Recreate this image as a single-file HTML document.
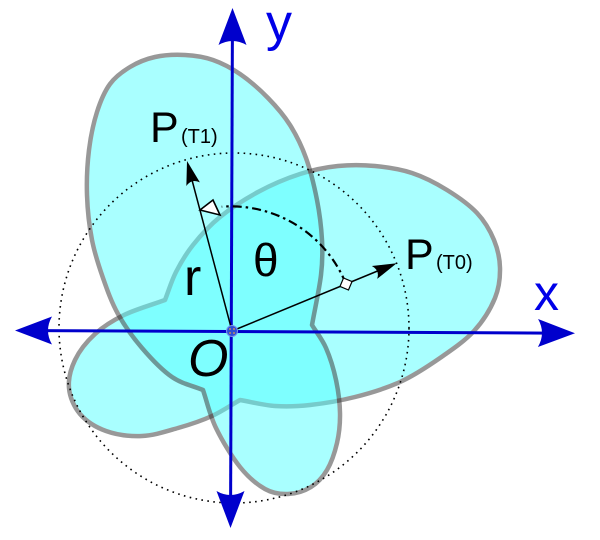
<!DOCTYPE html>
<html>
<head>
<meta charset="utf-8">
<style>
html,body{margin:0;padding:0;background:#fff;}
svg{display:block;}
</style>
</head>
<body>
<svg width="600" height="540" viewBox="0 0 600 540" xmlns="http://www.w3.org/2000/svg">
<rect x="0" y="0" width="600" height="540" fill="#ffffff"/>

<!-- Shape at T0 -->
<g opacity="0.5">
<path fill="#55ffff" stroke="#333333" stroke-width="4.5" stroke-linejoin="round" d="M165,300
C168.7,290.7 171.3,281.2 176,272
C180.7,262.8 185.7,254.2 193,245
C200.3,235.8 209.2,225.8 220,217
C230.8,208.2 244.7,199.2 258,192
C271.3,184.8 286.7,178.3 300,174
C313.3,169.7 325.5,167.3 338,166
C350.5,164.7 362.7,164.8 375,166
C387.3,167.2 400,169 412,173
C424,177 436.2,183.3 447,190
C457.8,196.7 469.2,204.7 477,213
C484.8,221.3 490.2,230.8 494,240
C497.8,249.2 499.8,258.3 500,268
C500.2,277.7 499.3,287.5 495,298
C490.7,308.5 483.2,321 474,331
C464.8,341 452.3,349.5 440,358
C427.7,366.5 414.2,375.5 400,382
C385.8,388.5 370,393.2 355,397
C340,400.8 323.3,403.5 310,405
C296.7,406.5 286.7,406.8 275,406
C263.3,405.2 251.7,402 240,400
C230.7,405.3 222.3,411.3 212,416
C201.7,420.7 189.7,424.7 178,428
C166.3,431.3 154,435.5 142,436
C130,436.5 116.3,434.7 106,431
C95.7,427.3 86.2,421.2 80,414
C73.8,406.8 69.8,397 69,388
C68.2,379 70.7,369 75,360
C79.3,351 86.8,341.5 95,334
C103.2,326.5 112.3,320.7 124,315
C135.7,309.3 151.3,305 165,300 Z"/>
</g>

<!-- Shape at T1 -->
<g opacity="0.5">
<path fill="#55ffff" stroke="#333333" stroke-width="4.5" stroke-linejoin="round" d="M203,390
C192.7,385.7 182.2,384 172,377
C161.8,370 151,358.5 142,348
C133,337.5 124.5,325.7 118,314
C111.5,302.3 107.3,290.3 103,278
C98.7,265.7 94.7,253.8 92,240
C89.3,226.2 87.5,210 87,195
C86.5,180 87.3,163.8 89,150
C90.7,136.2 93.5,123 97,112
C100.5,101 104.5,91.5 110,84
C115.5,76.5 122.5,71.5 130,67
C137.5,62.5 145.8,59 155,57
C164.2,55 175.3,54.5 185,55
C194.7,55.5 203.8,56.8 213,60
C222.2,63.2 230.8,67.7 240,74
C249.2,80.3 259.7,89.5 268,98
C276.3,106.5 283.7,115 290,125
C296.3,135 301.5,145.5 306,158
C310.5,170.5 314.3,186.3 317,200
C319.7,213.7 321.3,227.5 322,240
C322.7,252.5 322.7,260.8 321,275
C319.3,289.2 315,308.3 312,325
C316.7,332.7 322,338.8 326,348
C330,357.2 333.7,369.2 336,380
C338.3,390.8 339.8,402.5 340,413
C340.2,423.5 339.2,433.5 337,443
C334.8,452.5 331.3,462.7 327,470
C322.7,477.3 317.5,483 311,487
C304.5,491 295.7,493.7 288,494
C280.3,494.3 273,493.5 265,489
C257,484.5 248.2,477.2 240,467
C231.8,456.8 222.2,440.8 216,428
C209.8,415.2 207.3,402.7 203,390 Z"/>
</g>

<!-- dotted circle -->
<circle cx="234" cy="328" r="175" fill="none" stroke="#000" stroke-width="1.6" stroke-dasharray="1.6 4.4"/>

<!-- axes -->
<line x1="40" y1="330.6" x2="550" y2="333.1" stroke="#0000cc" stroke-width="3"/>
<line x1="232.4" y1="35" x2="230.6" y2="500" stroke="#0000cc" stroke-width="3"/>
<path d="M0,0 L-37,-14 Q-29,0 -37,14 Z" fill="#0000cc" transform="translate(575,333.2) rotate(0.3)"/>
<path d="M0,0 L-37,-14 Q-29,0 -37,14 Z" fill="#0000cc" transform="translate(15,330.5) rotate(180)"/>
<path d="M0,0 L-37,-14 Q-29,0 -37,14 Z" fill="#0000cc" transform="translate(232.5,8) rotate(-90)"/>
<path d="M0,0 L-37,-14 Q-29,0 -37,14 Z" fill="#0000cc" transform="translate(230.5,528) rotate(90)"/>

<!-- angle arc -->
<path d="M346,284 A124,124 0 0 0 221.7,206.7" fill="none" stroke="#000" stroke-width="2.2" stroke-dasharray="9 4 2.5 4"/>
<polygon points="200,210 213,200 220,215" fill="#fff" stroke="#000" stroke-width="1.6" stroke-linejoin="miter"/>

<!-- radius vectors -->
<line x1="232" y1="331" x2="380" y2="270" stroke="#000" stroke-width="1.5"/>
<path d="M0,0 L-24,-7 Q-18,0 -24,7 Z" fill="#000" transform="translate(396.7,263.3) rotate(-22.35)"/>
<line x1="232" y1="331" x2="192" y2="180" stroke="#000" stroke-width="1.5"/>
<path d="M0,0 L-24,-7 Q-18,0 -24,7 Z" fill="#000" transform="translate(187,161) rotate(-104.8)"/>

<!-- diamond marker -->
<rect x="-4.6" y="-4.6" width="9.2" height="9.2" fill="#fff" stroke="#000" stroke-width="1.2" transform="translate(346,284) rotate(22.7)"/>

<!-- origin marker -->
<circle cx="232" cy="331" r="5.5" fill="#2d4fd6" stroke="#7a95ea" stroke-width="1"/>
<circle cx="230" cy="329" r="0.9" fill="#e8a040"/>
<circle cx="234" cy="329" r="0.9" fill="#e8a040"/>
<circle cx="230" cy="333" r="0.9" fill="#e8a040"/>
<circle cx="234" cy="333" r="0.9" fill="#e8a040"/>

<!-- labels -->
<g font-family="'Liberation Sans', 'DejaVu Sans', sans-serif">
<text x="266" y="40" font-size="52" fill="#0000e8">y</text>
<text x="534" y="310" font-size="50" fill="#0000e8">x</text>
<text x="150" y="142" font-size="43" fill="#000">P</text>
<text x="181" y="143" font-size="20" fill="#000">(T1)</text>
<text x="405" y="269" font-size="43" fill="#000">P</text>
<text x="436" y="269" font-size="20" fill="#000">(T0)</text>
<text x="184" y="295" font-size="52" fill="#000">r</text>
<text x="253" y="276" font-size="46" fill="#000">θ</text>
<text x="188" y="376" font-size="52" font-style="italic" fill="#000">O</text>
</g>
</svg>
</body>
</html>
